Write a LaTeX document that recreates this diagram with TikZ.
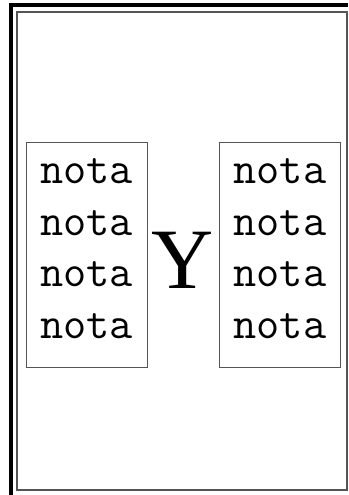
\documentclass[tikz,border=0pt]{standalone}
\usepackage{fontspec}
\setmainfont{Liberation Serif}
\usetikzlibrary{positioning}
\definecolor{frame}{HTML}{555555}
\tikzset{
  notes/.style={
    draw=frame,
    line width=0.9pt,
    minimum width=121pt,
    minimum height=225pt,
    inner sep=0pt,
    text depth=12pt,
    align=left,
    font=\ttfamily\fontsize{45}{51.5}\selectfont
  },
  letter/.style={
    inner sep=0pt,
    font=\fontsize{86}{90}\selectfont
  },
  border/.style={
    draw=black,
    line width=4pt
  },
  page/.style={
    draw=frame,
    line width=1.2pt
  }
}

\begin{document}
\begin{tikzpicture}[x=1pt,y=1pt]
  \useasboundingbox (0,0) rectangle (348,495);

  \draw[border] (9,490) -- (348,490);
  \draw[border] (11,492) -- (11,0);
  \draw[page] (17,5) rectangle (347,483);

  \node[notes] (leftnotes) at (86.5,240.5) {nota\\nota\\nota\\nota};

  \node[letter, right=4pt of leftnotes, yshift=-6pt] (y) {Y};

  \node[notes, right=5pt of y, yshift=6pt] (rightnotes) {nota\\nota\\nota\\nota};
\end{tikzpicture}
\end{document}
